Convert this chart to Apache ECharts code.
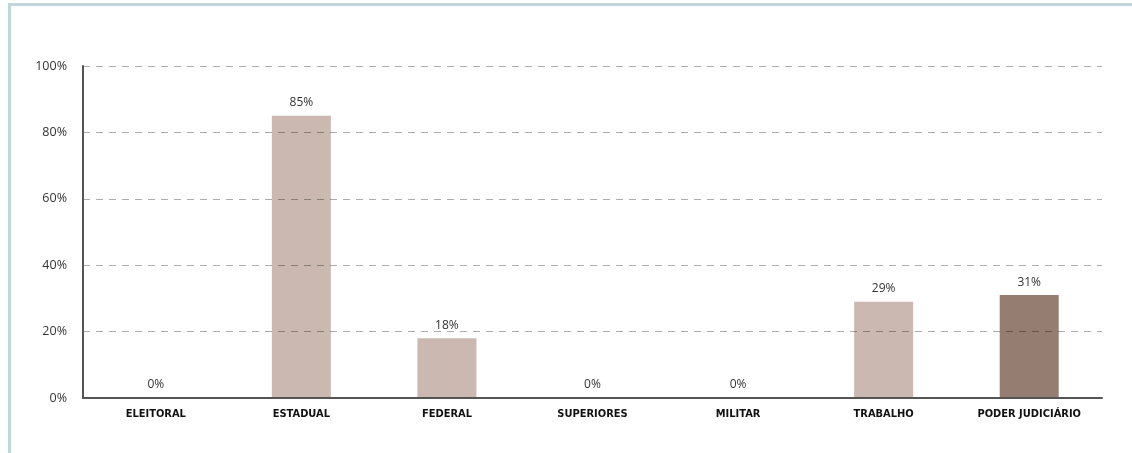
<!DOCTYPE html>
<html>
<head>
<meta charset="utf-8">
<script src="https://cdn.jsdelivr.net/npm/echarts@6/dist/echarts.min.js"></script>
<style>
  html, body { margin: 0; padding: 0; background: #fff; }
  #wrap { position: relative; width: 1132px; height: 453px; overflow: hidden; }
  #frame { position: absolute; left: 8px; top: 3px; right: 0; bottom: -4px;
           border-left: 3px solid #bfd6da; border-top: 3px solid #bfd6da; }
  #chart { position: absolute; left: 0; top: 0; width: 1132px; height: 453px; }
</style>
</head>
<body>
<div id="wrap">
  <div id="frame"></div>
  <div id="chart"></div>
</div>
<script>
const categories = ['ELEITORAL', 'ESTADUAL', 'FEDERAL', 'SUPERIORES', 'MILITAR', 'TRABALHO', 'PODER JUDICIÁRIO'];
const values = [0, 85, 18, 0, 0, 29, 31];
const yTicks = [0, 20, 40, 60, 80, 100];

const lightColor = '#cbb9b1';
const darkColor = '#967d72';

const chart = echarts.init(document.getElementById('chart'), null, { renderer: 'canvas' });
chart.setOption({
  animation: false,
  grid: { left: 83, right: 30, top: 66, bottom: 55, containLabel: false },
  xAxis: {
    type: 'category',
    data: categories,
    zlevel: 2,
    axisTick: { show: false, length: 0 },
    axisLine: { show: true, lineStyle: { color: '#555', width: 2 } },
    axisLabel: {
      margin: 11,
      color: '#111',
      fontFamily: 'DejaVu Sans Condensed',
      fontWeight: 'bold',
      fontSize: 11
    }
  },
  yAxis: {
    type: 'value',
    min: yTicks[0],
    max: yTicks[yTicks.length - 1],
    interval: 20,
    zlevel: 2,
    axisLine: { show: true, lineStyle: { color: '#555', width: 2 } },
    axisTick: { show: false, length: 0 },
    minorTick: { show: false },
    axisLabel: {
      margin: 16,
      color: '#333',
      fontFamily: 'Open Sans',
      fontSize: 12.5,
      formatter: v => v + '%'
    },
    splitLine: { show: false }
  },
  series: [
    {
      type: 'bar',
      barWidth: 59,
      data: values.map((v, i) => ({
        value: v,
        itemStyle: { color: i === values.length - 1 ? darkColor : lightColor }
      })),
      label: {
        show: true,
        position: 'top',
        distance: 7,
        color: '#333',
        fontFamily: 'Open Sans',
        fontSize: 12,
        formatter: p => p.value + '%'
      }
    },
    {
      // dashed guide lines, on their own layer above the bars
      type: 'line',
      data: [],
      zlevel: 1,
      silent: true,
      markLine: {
        silent: true,
        symbol: 'none',
        label: { show: false },
        lineStyle: { color: 'rgba(0,0,0,0.32)', type: [7, 6], width: 1.2 },
        emphasis: { disabled: true },
        data: yTicks.filter(t => t > 0).map(t => ({ yAxis: t }))
      }
    }
  ]
});
</script>
</body>
</html>
